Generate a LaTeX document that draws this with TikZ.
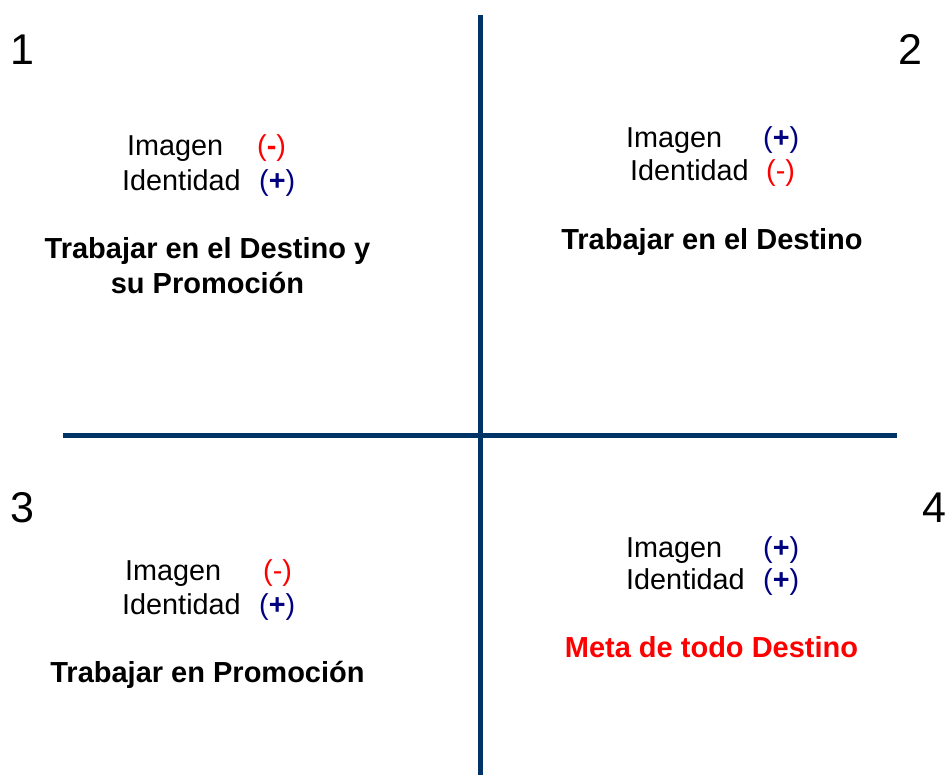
\documentclass[tikz,border=0pt]{standalone}
\usepackage{fontspec}
\setmainfont{Liberation Sans}
\definecolor{axisblue}{RGB}{0,51,102}
\definecolor{minusred}{RGB}{255,0,0}
\definecolor{plusblue}{RGB}{0,0,128}
\tikzset{
  axis/.style={draw=axisblue, line width=5pt},
  lbl/.style={anchor=base west, inner sep=0pt, font=\fontsize{28.8}{34}\selectfont},
  title/.style={anchor=base, inner sep=0pt, align=center, font=\fontsize{29}{35}\selectfont\bfseries},
  num/.style={anchor=base, inner sep=0pt, font=\fontsize{43}{50}\selectfont},
}
\newcommand{\pmin}{\textcolor{minusred}{(-)}}
\newcommand{\pminb}{\textcolor{minusred}{(\textbf{-})}}
\newcommand{\pplus}{\textcolor{plusblue}{(\textbf{+})}}
\begin{document}
\begin{tikzpicture}[x=1pt,y=-1pt]
\useasboundingbox (0,0) rectangle (949,775);
\coordinate (vt) at (480,15);
\coordinate (vb) at (480,775);
\coordinate (hl) at (63,435);
\coordinate (hr) at (897,435);
\draw[axis] (vt) -- (vb);
\draw[axis] (hl) -- (hr);

\node[num] (n1) at (22,65) {1};
\node[num] (n2) at (910,65) {2};
\node[num] (n3) at (22,522) {3};
\node[num] (n4) at (934,522) {4};

% Q1
\node[lbl] (q1i) at (127,156) {Imagen};
\node[lbl] (q1im) at (257,156) {\pminb};
\node[lbl] (q1d) at (122,191) {Identidad};
\node[lbl] (q1dm) at (259,191) {\pplus};
\node[title] (q1t) at (207.5,293) {Trabajar en el Destino y\\su Promoción};

% Q2
\node[lbl] (q2i) at (626,148) {Imagen};
\node[lbl] (q2im) at (763,148) {\pplus};
\node[lbl] (q2d) at (630,181) {Identidad};
\node[lbl] (q2dm) at (766,181) {\pmin};
\node[title] (q2t) at (712,250) {Trabajar en el Destino};

% Q3
\node[lbl] (q3i) at (125,580) {Imagen};
\node[lbl] (q3im) at (263,580) {\pmin};
\node[lbl] (q3d) at (122,614) {Identidad};
\node[lbl] (q3dm) at (259,614) {\pplus};
\node[title] (q3t) at (207.5,682) {Trabajar en Promoción};

% Q4
\node[lbl] (q4i) at (626,557) {Imagen};
\node[lbl] (q4im) at (763,557) {\pplus};
\node[lbl] (q4d) at (626,589) {Identidad};
\node[lbl] (q4dm) at (763,589) {\pplus};
\node[title, text=minusred] (q4t) at (711.5,657) {Meta de todo Destino};
\end{tikzpicture}
\end{document}
